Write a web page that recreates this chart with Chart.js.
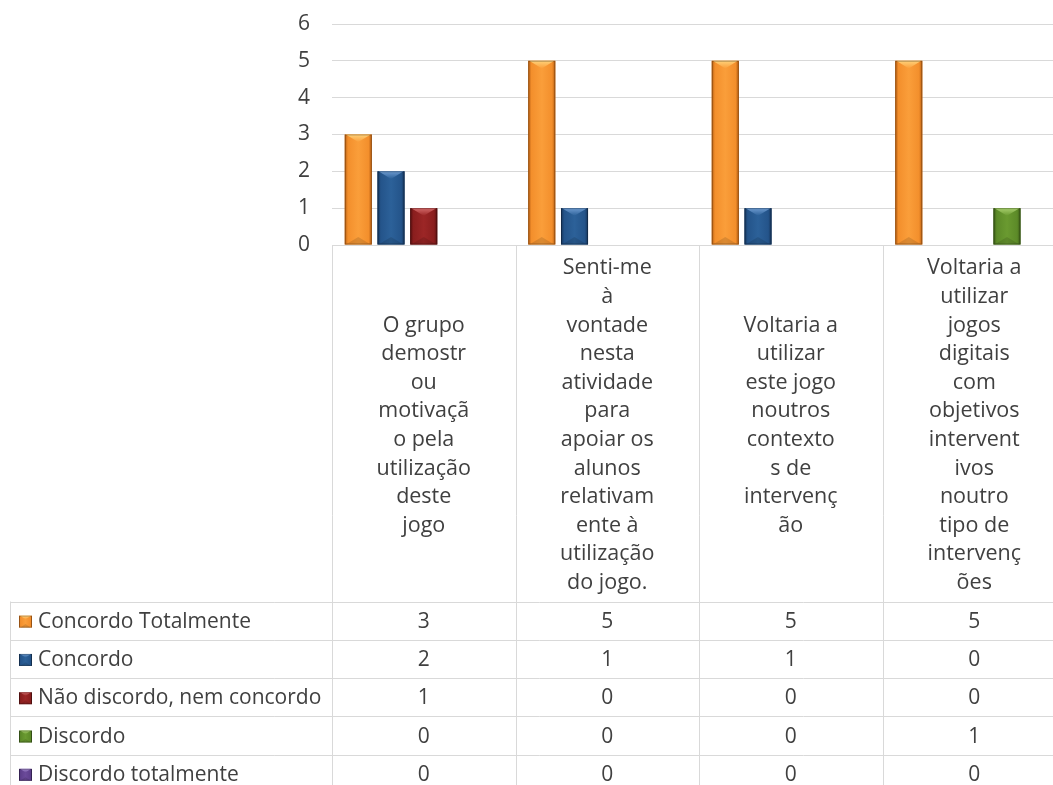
<!DOCTYPE html>
<html>
<head>
<meta charset="utf-8">
<script src="https://cdn.jsdelivr.net/npm/chart.js@4.4.1/dist/chart.umd.min.js"></script>
<style>
  html, body { margin: 0; padding: 0; background: #fff; overflow: hidden; }
  #wrap { width: 1068px; height: 785px; }
</style>
</head>
<body>
<div id="wrap"><canvas id="chart" width="1068" height="785"></canvas></div>
<script>
// ------------------------------
// DATA
// ------------------------------
// category labels, wrapped the same way as in the table header
const categories = [
  ["O grupo", "demostr", "ou", "motivaçã", "o pela", "utilização", "deste", "jogo"],
  ["Senti-me", "à", "vontade", "nesta", "atividade", "para", "apoiar os", "alunos", "relativam", "ente à", "utilização", "do jogo."],
  ["Voltaria a", "utilizar", "este jogo", "noutros", "contexto", "s de", "intervenç", "ão"],
  ["Voltaria a", "utilizar", "jogos", "digitais", "com", "objetivos", "intervent", "ivos", "noutro", "tipo de", "intervenç", "ões"]
];
const seriesNames = ["Concordo Totalmente", "Concordo", "Não discordo, nem concordo", "Discordo", "Discordo totalmente"];
const concordoTotalmente = [3, 5, 5, 5];
const concordo = [2, 1, 1, 0];
const naoDiscordo = [1, 0, 0, 0];
const discordo = [0, 0, 0, 1];
const discordoTotalmente = [0, 0, 0, 0];
const yTicks = [0, 1, 2, 3, 4, 5, 6];

const seriesValues = [concordoTotalmente, concordo, naoDiscordo, discordo, discordoTotalmente];

// bar colours: base, light bevel, dark edge
const palette = [
  { base: "#F38F2C", mid: "#FA9E3A", light: "#FFD27A", dark: "#B85F12" },
  { base: "#24548A", mid: "#2C6199", light: "#6E9BD0", dark: "#15345A" },
  { base: "#8A1E1E", mid: "#9C2626", light: "#D36A6A", dark: "#5A1010" },
  { base: "#5C8A28", mid: "#6A9A30", light: "#A8CF6E", dark: "#3A5A16" },
  { base: "#5E3F8C", mid: "#6B4A9A", light: "#A58BD0", dark: "#3B2560" }
];

const textColor = "#404040";
const lineColor = "#D9D9D9";
const fontFamily = "'Open Sans', 'Noto Sans', sans-serif";

// ------------------------------
// BEVELLED BARS
// ------------------------------
function paintBevel(ctx, x0, y0, x1, y1, c) {
  const w = x1 - x0;
  const h = y1 - y0;
  const g = ctx.createLinearGradient(x0, 0, x1, 0);
  g.addColorStop(0, c.dark);
  g.addColorStop(0.12, c.base);
  g.addColorStop(0.5, c.mid);
  g.addColorStop(0.88, c.base);
  g.addColorStop(1, c.dark);
  ctx.fillStyle = g;
  ctx.fillRect(x0, y0, w, h);

  const t = Math.min(w * 0.28, h / 2);
  // top chevron
  const gt = ctx.createLinearGradient(0, y0, 0, y0 + t);
  gt.addColorStop(0, c.light);
  gt.addColorStop(1, c.mid);
  ctx.fillStyle = gt;
  ctx.beginPath();
  ctx.moveTo(x0 + 1, y0);
  ctx.lineTo(x1 - 1, y0);
  ctx.lineTo((x0 + x1) / 2, y0 + t);
  ctx.closePath();
  ctx.fill();
  // bottom shade
  ctx.fillStyle = "rgba(0,0,0,0.12)";
  ctx.beginPath();
  ctx.moveTo(x0 + 1, y1);
  ctx.lineTo(x1 - 1, y1);
  ctx.lineTo((x0 + x1) / 2, y1 - t);
  ctx.closePath();
  ctx.fill();
  // outline
  ctx.strokeStyle = "rgba(0,0,0,0.25)";
  ctx.lineWidth = 1;
  ctx.strokeRect(x0 + 0.5, y0 + 0.5, w - 1, h - 1);
}

const bevelPlugin = {
  id: "bevel",
  afterDatasetsDraw(chart) {
    const ctx = chart.ctx;
    ctx.save();
    chart.data.datasets.forEach((ds, i) => {
      const meta = chart.getDatasetMeta(i);
      meta.data.forEach(bar => {
        const p = bar.getProps(["x", "y", "base", "width"], true);
        if (p.base - p.y < 1) return;
        paintBevel(ctx, p.x - p.width / 2, p.y, p.x + p.width / 2, p.base, palette[i]);
      });
    });
    ctx.restore();
  }
};

// ------------------------------
// DATA TABLE UNDER THE PLOT
// ------------------------------
const tablePlugin = {
  id: "dataTable",
  afterDraw(chart) {
    const ctx = chart.ctx;
    const area = chart.chartArea;
    const xs = chart.scales.x;
    const n = categories.length;
    const colW = (area.right - area.left) / n;
    const headTop = Math.round(area.bottom) + 0.5;
    const headBottom = 601.5;
    const rowH = 38.3;
    const legendLeft = 10.5;
    const bottom = chart.height + 20;
    const right = chart.width;

    ctx.save();
    ctx.strokeStyle = lineColor;
    ctx.lineWidth = 1;
    ctx.beginPath();
    // header top
    ctx.moveTo(area.left, headTop);
    ctx.lineTo(right, headTop);
    // column lines
    for (let i = 0; i <= n; i++) {
      const x = Math.round(area.left + i * colW) + 0.5;
      ctx.moveTo(x, headTop);
      ctx.lineTo(x, bottom);
    }
    // legend column border
    ctx.moveTo(legendLeft, headBottom);
    ctx.lineTo(legendLeft, bottom);
    // row lines
    for (let r = 0; r <= seriesNames.length; r++) {
      const y = Math.round(headBottom + r * rowH) + 0.5;
      ctx.moveTo(legendLeft, y);
      ctx.lineTo(right, y);
    }
    ctx.stroke();

    ctx.fillStyle = textColor;
    ctx.textAlign = "center";
    ctx.textBaseline = "middle";

    // header labels
    ctx.font = "21.5px " + fontFamily;
    const lh = 28.6;
    const midY = (headTop + headBottom) / 2 + 2;
    categories.forEach((lines, i) => {
      const cx = xs.getPixelForValue(i);
      const y0 = midY - (lines.length - 1) * lh / 2;
      lines.forEach((ln, k) => ctx.fillText(ln, cx, y0 + k * lh));
    });

    // values + legend
    seriesNames.forEach((name, r) => {
      const cy = headBottom + r * rowH + rowH / 2 + 1;
      ctx.font = "21px " + fontFamily;
      ctx.fillStyle = textColor;
      ctx.textAlign = "center";
      seriesValues[r].forEach((v, i) => {
        ctx.fillText(String(v), xs.getPixelForValue(i), cy);
      });
      // legend key
      paintBevel(ctx, 19, cy - 6, 32, cy + 6, palette[r]);
      ctx.fillStyle = textColor;
      ctx.textAlign = "left";
      ctx.fillText(name, 38, cy);
    });
    ctx.restore();
  }
};

// ------------------------------
// CHART
// ------------------------------
new Chart(document.getElementById("chart"), {
  type: "bar",
  data: {
    labels: categories.map(c => c.join(" ")),
    datasets: seriesNames.map((name, i) => ({
      label: name,
      data: seriesValues[i],
      backgroundColor: palette[i].base,
      borderWidth: 0,
      categoryPercentage: 0.892,
      barPercentage: 0.826
    }))
  },
  options: {
    responsive: false,
    animation: false,
    layout: { padding: { top: 24, right: 2, bottom: 540, left: 0 } },
    plugins: {
      legend: { display: false },
      tooltip: { enabled: false }
    },
    scales: {
      x: { display: false },
      y: {
        min: 0,
        max: 6,
        afterBuildTicks: s => { s.ticks = yTicks.map(v => ({ value: v })); },
        afterFit: s => { s.width = 332; },
        grid: { color: lineColor, drawTicks: true, tickLength: 22, tickColor: "rgba(0,0,0,0)" },
        border: { display: false },
        ticks: {
          padding: 0,
          color: textColor,
          font: { family: fontFamily, size: 21 }
        }
      }
    }
  },
  plugins: [bevelPlugin, tablePlugin]
});
</script>
</body>
</html>
